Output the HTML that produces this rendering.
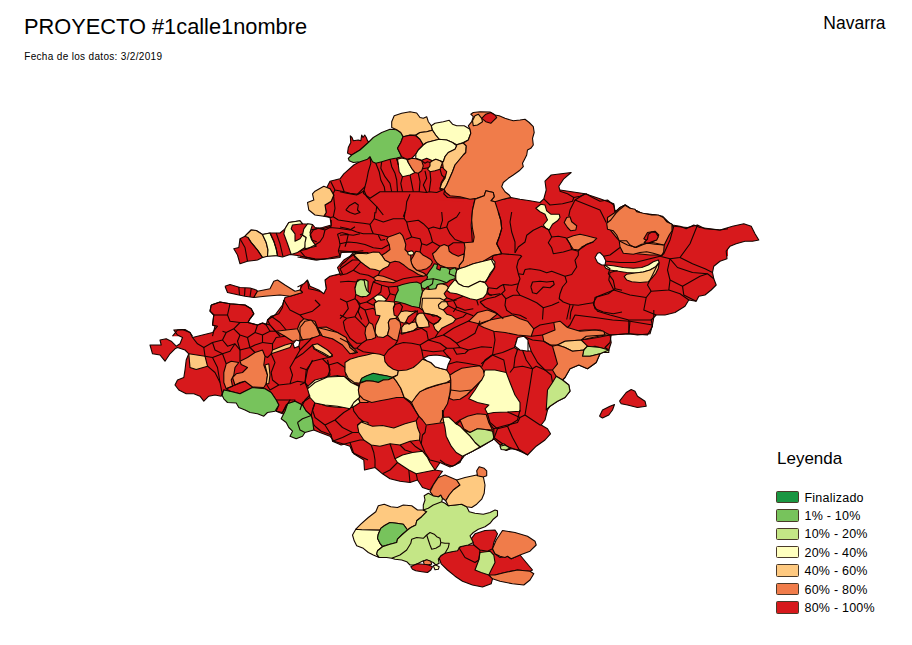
<!DOCTYPE html>
<html lang="es"><head><meta charset="utf-8"><title>PROYECTO #1calle1nombre</title>
<style>
html,body{margin:0;padding:0;background:#fff}
body{width:912px;height:645px;position:relative;overflow:hidden;font-family:"Liberation Sans",Arial,sans-serif;color:#000}
.t{position:absolute;white-space:nowrap;line-height:1}
#title{left:24px;top:15.8px;font-size:21.8px}
#date{left:24.2px;top:52px;font-size:10px;letter-spacing:0.33px}
#reg{left:823.3px;top:14.8px;font-size:17.5px}
#leg{left:777px;top:450px;font-size:17px}
.li{position:absolute;left:776px;width:23px;height:12.5px;border:1px solid #4a3a2a;box-sizing:border-box;border-radius:1.5px}
.lt{position:absolute;left:804.5px;font-size:12.5px;letter-spacing:0.23px;white-space:nowrap;line-height:1}
svg{position:absolute;left:0;top:0}
svg polygon,svg polyline{stroke:#140500;stroke-width:1.1;stroke-linejoin:round}
.R{fill:#d7191c}
.O{fill:#f07c4a}
.L{fill:#fec980}
.Y{fill:#ffffbf}
.G1{fill:#c4e686}
.G2{fill:#77c35c}
.G3{fill:#1a9641}
.W{fill:#ffffff}
.N{fill:none}
.RB{fill:#d7191c}
.WB{fill:#ffffff}
svg .RB,svg .WB{stroke:none}
</style></head><body>
<div class="t" id="title">PROYECTO #1calle1nombre</div>
<div class="t" id="date">Fecha de los datos: 3/2/2019</div>
<div class="t" id="reg">Navarra</div>
<div class="t" id="leg">Leyenda</div>
<div class="li" style="top:490.6px;background:#1a9641"></div><div class="lt" style="top:491.5px">Finalizado</div>
<div class="li" style="top:509.1px;background:#77c35c"></div><div class="lt" style="top:510.0px">1% - 10%</div>
<div class="li" style="top:527.5px;background:#c4e686"></div><div class="lt" style="top:528.4px">10% - 20%</div>
<div class="li" style="top:545.9px;background:#ffffbf"></div><div class="lt" style="top:546.8px">20% - 40%</div>
<div class="li" style="top:564.3px;background:#fec980"></div><div class="lt" style="top:565.2px">40% - 60%</div>
<div class="li" style="top:582.8px;background:#f07c4a"></div><div class="lt" style="top:583.6px">60% - 80%</div>
<div class="li" style="top:601.2px;background:#d7191c"></div><div class="lt" style="top:602.1px">80% - 100%</div>
<svg width="912" height="645" viewBox="0 0 912 645">
<polygon class="RB" points="326.2,188.8 330.0,181.2 340.0,178.8 343.8,173.8 353.8,165.0 365.0,158.8 371.2,157.5 375.0,161.2 382.5,158.8 395.0,155.0 400.0,167.5 415.0,170.0 430.0,167.5 445.0,167.5 447.5,172.5 441.2,182.5 440.0,189.5 445.0,188.8 443.8,193.8 447.5,197.5 460.0,198.0 475.0,198.8 472.5,210.0 471.2,225.0 472.5,245.0 465.0,256.2 300.0,256.2 300.0,235.0 310.0,230.0 322.5,227.5 331.2,225.0 330.0,217.5 323.8,216.2 326.2,212.5 325.0,205.0 331.2,201.2 333.8,195.0 330.0,188.8"/>
<polygon class="RB" points="347.5,153.3 348.3,147.5 350.8,142.5 350.3,135.8 352.0,137.5 353.3,140.8 358.3,140.0 360.8,140.8 361.7,135.0 363.0,137.5 364.7,135.0 366.3,137.5 367.5,140.8 369.2,142.0 360.0,150.0 351.7,155.0"/>
<polygon class="RB" points="396.7,156.7 443.3,160.0 445.0,178.3 440.0,188.3 396.7,191.7"/>
<polygon class="RB" points="233.8,248.8 238.8,247.5 240.0,238.8 245.0,236.2 251.2,230.0 256.2,230.5 262.5,234.5 270.0,233.0 280.0,233.0 285.0,228.8 288.8,222.5 300.0,220.8 302.5,223.8 312.5,224.5 315.0,227.5 322.5,228.8 331.2,226.2 340.0,225.0 355.0,225.0 368.0,225.0 368.0,252.5 352.5,252.5 347.5,253.0 341.2,255.0 338.8,258.8 327.5,259.5 315.0,258.8 305.0,257.0 297.5,255.5 290.0,254.5 282.5,257.0 275.0,255.5 265.0,256.2 257.5,260.0 247.5,261.2 240.0,263.8 237.5,255.0"/>
<polygon class="RB" points="225.0,286.2 230.0,284.5 240.0,287.5 250.0,288.0 256.2,290.0 257.5,291.2 253.8,297.5 245.0,296.2 238.8,295.0 227.5,292.5"/>
<polygon class="RB" points="300.0,290.0 303.8,281.2 307.5,280.0 308.8,288.8 315.0,290.0 323.8,292.5 326.2,288.8 325.0,280.0 328.8,276.2 342.5,273.8 340.0,268.8 352.5,260.0 368.0,260.0 368.0,336.2 280.0,336.2 270.0,325.0 267.5,320.0 275.0,315.0 282.5,305.0 285.0,297.5 290.0,296.2 302.5,292.5"/>
<polygon class="RB" points="211.2,305.0 220.0,302.0 230.0,303.8 245.0,305.0 251.2,308.8 253.8,313.8 250.0,318.8 248.0,322.5 257.5,325.0 262.5,323.0 270.0,325.0 280.0,336.2 172.5,336.2 177.5,330.0 185.0,329.5 190.0,332.5 192.5,336.2 212.5,336.2 215.0,326.2 212.5,325.0 213.8,315.0 210.0,311.2"/>
<polygon class="RB" points="490.0,200.8 503.2,199.2 510.8,197.5 520.0,199.2 530.0,200.8 540.0,202.5 543.8,198.8 546.2,190.0 545.0,181.2 551.2,175.0 561.2,173.8 571.2,172.5 563.8,178.8 558.8,186.2 560.0,191.2 567.5,193.8 573.8,197.5 580.0,196.2 586.2,193.8 592.5,197.5 600.0,201.2 607.5,200.0 613.8,205.0 615.0,212.5 620.0,207.5 625.0,205.0 630.0,208.8 636.2,210.5 642.5,213.8 652.5,214.5 660.0,216.2 666.2,221.2 672.5,225.0 680.0,226.2 686.2,228.8 693.8,225.0 700.0,227.5 710.0,228.8 720.0,230.0 728.0,228.8 728.0,256.2 490.0,256.2"/>
<polygon class="RB" points="585.0,193.8 600.0,198.8 613.8,203.8 615.0,211.2 620.0,208.8 625.5,205.0 635.0,211.2 645.0,215.0 656.2,215.0 662.5,216.2 668.8,222.5 673.8,226.2 687.5,227.5 697.5,225.0 705.0,228.8 720.0,230.0 732.5,226.2 743.8,223.8 751.2,226.2 755.0,233.8 758.8,240.0 752.5,241.2 745.0,241.2 736.2,243.8 730.0,246.2 726.2,251.2 727.0,258.8 720.0,261.2 713.8,266.2 712.5,272.5 713.8,278.8 716.2,285.0 711.2,290.0 705.0,295.0 698.8,296.2 696.2,301.2 688.8,300.0 685.0,306.2 675.0,312.5 665.0,315.0 656.2,315.0 651.2,320.0 652.5,326.2 647.5,335.0 628.8,333.8 610.0,335.0 611.2,342.5 608.8,350.0 560.0,351.2 560.0,190.0"/>
<polygon class="RB" points="653.8,317.5 652.5,325.0 650.0,333.8 637.5,335.0 628.8,333.8 611.2,335.0 610.0,342.5 605.0,347.5 608.8,350.0 600.0,353.8 596.2,362.5 587.5,368.8 578.8,365.0 570.0,368.8 565.0,377.5 562.5,380.0 568.8,385.0 570.0,391.2 565.0,397.5 557.5,401.2 550.0,406.2 547.5,410.0 545.0,420.0 541.2,425.0 547.5,428.8 550.5,433.8 545.0,440.0 536.2,446.2 527.5,455.0 520.0,450.0 511.2,448.8 506.2,450.0 501.2,446.2 502.5,443.8 493.8,437.5 492.5,440.0 480.0,446.2 472.5,451.2 462.5,456.2 460.0,462.5 452.5,466.2 445.0,463.8 440.0,460.0 440.0,310.0 653.8,310.0"/>
<polygon class="RB" points="619.5,401.2 626.2,392.5 631.2,389.5 635.0,391.2 637.5,396.2 645.0,401.2 646.2,406.2 637.5,407.5 627.5,405.0 621.2,403.8"/>
<polygon class="RB" points="599.5,416.2 602.5,410.0 610.0,406.2 614.5,404.5 612.5,410.0 608.8,415.0 602.5,418.0"/>
<polygon class="RB" points="211.2,305.0 220.0,302.0 230.0,303.8 245.0,305.0 251.2,308.8 253.8,313.8 250.0,318.8 248.0,322.5 257.5,325.0 262.5,323.0 266.2,325.0 267.5,320.0 271.2,316.2 278.8,313.8 282.5,307.5 283.8,300.0 368.0,300.0 368.0,460.0 360.0,456.2 352.5,452.5 350.0,446.2 342.5,443.8 333.8,441.2 330.0,436.2 320.0,432.5 313.8,430.0 312.5,420.0 311.2,415.5 306.2,411.2 302.5,405.0 295.0,401.2 287.5,403.8 286.2,405.0 282.5,412.5 276.2,411.2 278.8,405.0 276.2,400.0 271.2,392.5 265.0,388.8 252.5,387.5 240.0,393.8 230.0,391.2 223.8,390.0 221.2,396.2 215.0,395.0 208.8,396.2 203.8,401.2 200.0,396.2 193.8,393.8 186.2,393.8 178.8,390.0 175.0,385.0 177.5,380.0 183.8,377.5 185.0,370.0 186.2,360.0 188.8,353.8 185.0,350.0 177.5,347.5 175.0,348.8 170.0,353.8 165.0,361.2 160.0,355.0 152.5,353.8 150.0,345.0 161.2,345.0 160.0,340.0 166.2,338.8 171.2,341.2 176.2,346.2 180.0,343.8 182.5,337.5 177.5,335.0 173.8,330.0 182.5,329.5 190.0,332.5 192.5,337.5 202.5,335.0 212.5,332.5 217.5,326.2 212.5,325.0 213.8,315.0 210.0,311.2"/>
<polygon class="RB" points="276.2,400.0 295.0,400.0 290.0,412.5 282.5,413.8 276.2,411.2"/>
<polygon class="RB" points="300.0,230.0 528.0,230.0 528.0,391.2 300.0,391.2"/>
<polygon class="RB" points="300.0,360.0 528.0,360.0 528.0,455.0 520.0,451.2 510.0,447.5 500.0,445.0 493.8,438.8 486.2,443.8 480.0,447.5 472.5,451.2 465.0,455.0 461.2,460.0 455.0,465.0 450.0,467.0 440.0,462.5 435.0,470.0 442.5,471.2 436.2,480.0 430.0,490.0 422.5,487.5 417.5,480.0 410.0,482.5 400.0,481.2 390.0,478.8 382.5,473.8 375.0,467.5 364.5,470.0 363.8,460.0 353.8,453.8 350.0,442.5 341.2,445.0 332.5,441.2 331.2,435.0 321.2,431.2 315.0,426.2 310.0,420.0 300.0,420.0"/>
<polygon class="RB" points="520.0,250.0 570.0,250.0 570.0,320.0 520.0,320.0"/>
<polygon class="RB" points="438.8,557.5 445.0,552.5 455.0,551.2 458.8,547.5 466.2,545.0 473.8,545.0 471.2,538.8 475.0,533.8 485.0,530.5 495.0,530.0 497.5,533.8 493.8,542.5 492.5,548.8 495.0,553.8 500.0,557.5 507.5,556.2 511.2,558.8 520.0,555.0 526.2,562.5 532.5,570.0 530.0,571.2 517.5,570.0 505.0,572.5 495.0,575.0 492.5,578.8 491.2,583.8 482.5,587.0 472.5,585.0 462.5,581.2 455.0,576.2 447.5,570.0 441.2,563.8"/>
<polygon class="RB" points="438.3,185.0 463.3,194.2 463.3,201.7 438.3,200.0"/>
<polyline class="N" points="326.2,188.8 330.0,181.2 340.0,178.8 343.8,173.8 353.8,165.0 365.0,158.8 371.2,157.5 375.0,161.2 382.5,158.8 395.0,155.0 400.0,167.5 415.0,170.0 430.0,167.5 445.0,167.5 447.5,172.5 441.2,182.5 440.0,189.5 445.0,188.8 443.8,193.8 447.5,197.5 460.0,198.0 475.0,198.8 472.5,210.0 471.2,225.0 472.5,245.0 465.0,256.2"/>
<polyline class="N" points="300.0,235.0 310.0,230.0 322.5,227.5 331.2,225.0 330.0,217.5 323.8,216.2 326.2,212.5 325.0,205.0 331.2,201.2 333.8,195.0 330.0,188.8 326.2,188.8"/>
<polyline class="N" points="347.5,153.3 348.3,147.5 350.8,142.5 350.3,135.8 352.0,137.5 353.3,140.8 358.3,140.0 360.8,140.8 361.7,135.0 363.0,137.5 364.7,135.0 366.3,137.5 367.5,140.8 369.2,142.0 360.0,150.0 351.7,155.0 347.5,153.3"/>
<polyline class="N" points="352.5,252.5 347.5,253.0 341.2,255.0 338.8,258.8 327.5,259.5 315.0,258.8 305.0,257.0 297.5,255.5 290.0,254.5 282.5,257.0 275.0,255.5 265.0,256.2 257.5,260.0 247.5,261.2 240.0,263.8 237.5,255.0 233.8,248.8 238.8,247.5 240.0,238.8 245.0,236.2 251.2,230.0 256.2,230.5 262.5,234.5 270.0,233.0 280.0,233.0 285.0,228.8 288.8,222.5 300.0,220.8 302.5,223.8 312.5,224.5 315.0,227.5 322.5,228.8 331.2,226.2 331.2,220.0"/>
<polyline class="N" points="225.0,286.2 230.0,284.5 240.0,287.5 250.0,288.0 256.2,290.0 257.5,291.2 253.8,297.5 245.0,296.2 238.8,295.0 227.5,292.5 225.0,286.2"/>
<polyline class="N" points="300.0,290.0 303.8,281.2 307.5,280.0 308.8,288.8 315.0,290.0 323.8,292.5 326.2,288.8 325.0,280.0 328.8,276.2 342.5,273.8 340.0,268.8 352.5,260.0 368.0,260.0"/>
<polyline class="N" points="280.0,336.2 270.0,325.0 267.5,320.0 275.0,315.0 282.5,305.0 285.0,297.5 290.0,296.2 302.5,292.5 300.0,290.0"/>
<polyline class="N" points="211.2,305.0 220.0,302.0 230.0,303.8 245.0,305.0 251.2,308.8 253.8,313.8 250.0,318.8 248.0,322.5 257.5,325.0 262.5,323.0 270.0,325.0 280.0,336.2"/>
<polyline class="N" points="172.5,336.2 177.5,330.0 185.0,329.5 190.0,332.5 192.5,336.2"/>
<polyline class="N" points="212.5,336.2 215.0,326.2 212.5,325.0 213.8,315.0 210.0,311.2 211.2,305.0"/>
<polyline class="N" points="490.0,200.8 503.2,199.2 510.8,197.5 520.0,199.2 530.0,200.8 540.0,202.5 543.8,198.8 546.2,190.0 545.0,181.2 551.2,175.0 561.2,173.8 571.2,172.5 563.8,178.8 558.8,186.2 560.0,191.2 567.5,193.8 573.8,197.5 580.0,196.2 586.2,193.8 592.5,197.5 600.0,201.2 607.5,200.0 613.8,205.0 615.0,212.5 620.0,207.5 625.0,205.0 630.0,208.8 636.2,210.5 642.5,213.8 652.5,214.5 660.0,216.2 666.2,221.2 672.5,225.0 680.0,226.2 686.2,228.8 693.8,225.0 700.0,227.5 710.0,228.8 720.0,230.0 728.0,228.8"/>
<polyline class="N" points="585.0,193.8 600.0,198.8 613.8,203.8 615.0,211.2 620.0,208.8 625.5,205.0 635.0,211.2 645.0,215.0 656.2,215.0 662.5,216.2 668.8,222.5 673.8,226.2 687.5,227.5 697.5,225.0 705.0,228.8 720.0,230.0 732.5,226.2 743.8,223.8 751.2,226.2 755.0,233.8 758.8,240.0 752.5,241.2 745.0,241.2 736.2,243.8 730.0,246.2 726.2,251.2 727.0,258.8 720.0,261.2 713.8,266.2 712.5,272.5 713.8,278.8 716.2,285.0 711.2,290.0 705.0,295.0 698.8,296.2 696.2,301.2 688.8,300.0 685.0,306.2 675.0,312.5 665.0,315.0 656.2,315.0 651.2,320.0 652.5,326.2 647.5,335.0 628.8,333.8 610.0,335.0 611.2,342.5 608.8,350.0 560.0,351.2"/>
<polyline class="N" points="560.0,190.0 585.0,193.8"/>
<polyline class="N" points="653.8,317.5 652.5,325.0 650.0,333.8 637.5,335.0 628.8,333.8 611.2,335.0 610.0,342.5 605.0,347.5 608.8,350.0 600.0,353.8 596.2,362.5 587.5,368.8 578.8,365.0 570.0,368.8 565.0,377.5 562.5,380.0 568.8,385.0 570.0,391.2 565.0,397.5 557.5,401.2 550.0,406.2 547.5,410.0 545.0,420.0 541.2,425.0 547.5,428.8 550.5,433.8 545.0,440.0 536.2,446.2 527.5,455.0 520.0,450.0 511.2,448.8 506.2,450.0 501.2,446.2 502.5,443.8 493.8,437.5 492.5,440.0 480.0,446.2 472.5,451.2 462.5,456.2 460.0,462.5 452.5,466.2 445.0,463.8 440.0,460.0"/>
<polyline class="N" points="653.8,310.0 653.8,317.5"/>
<polyline class="N" points="619.5,401.2 626.2,392.5 631.2,389.5 635.0,391.2 637.5,396.2 645.0,401.2 646.2,406.2 637.5,407.5 627.5,405.0 621.2,403.8 619.5,401.2"/>
<polyline class="N" points="599.5,416.2 602.5,410.0 610.0,406.2 614.5,404.5 612.5,410.0 608.8,415.0 602.5,418.0 599.5,416.2"/>
<polyline class="N" points="211.2,305.0 220.0,302.0 230.0,303.8 245.0,305.0 251.2,308.8 253.8,313.8 250.0,318.8 248.0,322.5 257.5,325.0 262.5,323.0 266.2,325.0 267.5,320.0 271.2,316.2 278.8,313.8 282.5,307.5 283.8,300.0"/>
<polyline class="N" points="368.0,460.0 360.0,456.2 352.5,452.5 350.0,446.2 342.5,443.8 333.8,441.2 330.0,436.2 320.0,432.5 313.8,430.0 312.5,420.0 311.2,415.5 306.2,411.2 302.5,405.0 295.0,401.2 287.5,403.8 286.2,405.0 282.5,412.5 276.2,411.2 278.8,405.0 276.2,400.0 271.2,392.5 265.0,388.8 252.5,387.5 240.0,393.8 230.0,391.2 223.8,390.0 221.2,396.2 215.0,395.0 208.8,396.2 203.8,401.2 200.0,396.2 193.8,393.8 186.2,393.8 178.8,390.0 175.0,385.0 177.5,380.0 183.8,377.5 185.0,370.0 186.2,360.0 188.8,353.8 185.0,350.0 177.5,347.5 175.0,348.8 170.0,353.8 165.0,361.2 160.0,355.0 152.5,353.8 150.0,345.0 161.2,345.0 160.0,340.0 166.2,338.8 171.2,341.2 176.2,346.2 180.0,343.8 182.5,337.5 177.5,335.0 173.8,330.0 182.5,329.5 190.0,332.5 192.5,337.5 202.5,335.0 212.5,332.5 217.5,326.2 212.5,325.0 213.8,315.0 210.0,311.2 211.2,305.0"/>
<polyline class="N" points="276.2,400.0 295.0,400.0 290.0,412.5 282.5,413.8 276.2,411.2 276.2,400.0"/>
<polyline class="N" points="528.0,455.0 520.0,451.2 510.0,447.5 500.0,445.0 493.8,438.8 486.2,443.8 480.0,447.5 472.5,451.2 465.0,455.0 461.2,460.0 455.0,465.0 450.0,467.0 440.0,462.5 435.0,470.0 442.5,471.2 436.2,480.0 430.0,490.0 422.5,487.5 417.5,480.0 410.0,482.5 400.0,481.2 390.0,478.8 382.5,473.8 375.0,467.5 364.5,470.0 363.8,460.0 353.8,453.8 350.0,442.5 341.2,445.0 332.5,441.2 331.2,435.0 321.2,431.2 315.0,426.2 310.0,420.0 300.0,420.0"/>
<polyline class="N" points="438.8,557.5 445.0,552.5 455.0,551.2 458.8,547.5 466.2,545.0 473.8,545.0 471.2,538.8 475.0,533.8 485.0,530.5 495.0,530.0 497.5,533.8 493.8,542.5 492.5,548.8 495.0,553.8 500.0,557.5 507.5,556.2 511.2,558.8 520.0,555.0 526.2,562.5 532.5,570.0 530.0,571.2 517.5,570.0 505.0,572.5 495.0,575.0 492.5,578.8 491.2,583.8 482.5,587.0 472.5,585.0 462.5,581.2 455.0,576.2 447.5,570.0 441.2,563.8 438.8,557.5"/>
<polygon class="G2" points="348.3,158.3 351.7,155.0 360.0,150.0 368.3,142.5 373.3,137.5 381.7,132.5 390.0,129.2 396.7,129.7 400.8,132.5 403.0,136.7 400.8,142.5 397.5,148.3 400.0,153.3 401.7,156.7 396.7,158.0 390.0,159.2 381.7,161.7 375.8,163.3 372.5,161.7 370.0,156.7 367.5,159.2 360.0,161.7 353.3,162.5 349.2,160.8"/>
<polygon class="L" points="391.7,121.7 394.2,115.8 401.7,113.3 410.0,111.7 416.7,113.0 420.0,117.5 423.3,118.3 426.7,116.7 428.3,121.7 431.3,125.8 432.5,130.0 426.7,131.7 420.0,132.5 415.8,135.0 410.0,135.0 403.3,136.7 400.8,132.5 396.7,129.7 391.7,127.5"/>
<polygon class="R" points="403.0,136.7 410.0,135.3 415.8,135.8 420.0,139.2 423.3,145.0 418.3,150.0 415.8,154.2 411.7,158.3 406.7,159.2 401.7,156.7 397.5,148.3 400.8,142.5"/>
<polygon class="L" points="415.8,135.3 420.0,132.5 426.7,131.7 432.5,130.3 435.8,135.0 439.2,139.2 433.3,140.8 426.7,142.5 423.3,144.7 420.0,139.2"/>
<polygon class="Y" points="431.3,125.8 435.0,123.3 443.3,121.7 449.2,120.3 452.5,124.2 456.7,125.8 464.2,125.8 470.0,129.2 470.8,133.3 468.3,140.0 463.3,142.5 456.7,144.7 452.5,142.5 446.7,140.0 439.2,139.2 435.8,135.0 432.5,130.0"/>
<polygon class="Y" points="423.3,145.0 426.7,142.5 433.3,140.8 439.2,139.2 446.7,140.0 452.5,142.5 456.7,145.8 455.0,149.2 448.3,152.5 445.0,156.7 443.3,161.7 440.0,160.8 435.8,159.2 432.5,160.8 426.7,158.3 421.7,160.3 415.8,158.3 415.8,154.2 418.3,150.0"/>
<polygon class="L" points="456.7,144.7 463.3,143.0 466.3,145.8 465.8,152.5 463.3,155.0 459.2,160.0 455.0,165.0 452.5,171.7 449.2,179.2 446.7,185.0 444.2,189.2 440.0,188.3 441.7,183.3 445.0,178.3 446.7,171.7 443.3,168.3 442.5,162.5 443.3,161.7 445.0,156.7 448.3,152.5 455.0,149.2 456.7,145.8"/>
<polygon class="O" points="470.8,133.3 470.0,129.2 468.3,125.8 471.7,121.7 473.3,116.7 470.8,114.2 473.3,112.5 480.0,111.7 490.0,112.0 495.0,115.0 499.2,115.8 505.0,118.3 513.3,120.8 520.0,120.0 525.0,119.2 529.2,122.5 533.3,126.7 534.2,132.5 532.5,138.3 533.3,145.0 530.8,148.3 527.5,150.0 526.7,155.0 524.2,160.0 522.5,163.3 523.3,166.7 519.2,170.8 513.3,175.0 508.3,178.3 503.3,182.5 501.7,186.7 505.0,191.7 509.2,195.0 510.8,197.5 503.3,199.2 495.0,201.7 490.8,200.8 494.2,196.7 493.3,192.5 485.8,190.8 484.2,195.8 476.7,198.3 470.0,199.2 460.0,196.7 450.0,195.8 445.8,192.5 444.2,189.2 446.7,185.0 449.2,179.2 452.5,171.7 455.0,165.0 459.2,160.0 463.3,155.0 465.8,152.5 466.3,145.8 463.3,143.0 468.3,140.0"/>
<polygon class="L" points="472.5,120.8 475.0,115.8 478.3,114.2 481.7,118.3 482.5,121.7 477.5,125.0 473.3,125.8"/>
<polygon class="Y" points="397.5,159.2 401.7,158.0 406.7,159.2 408.3,162.5 411.7,168.3 415.0,172.5 410.0,175.0 402.5,176.7 399.2,171.7 398.3,165.0"/>
<polygon class="O" points="407.5,160.0 411.7,158.3 415.8,158.7 421.7,160.8 423.3,165.8 421.7,170.8 418.3,173.3 415.0,172.5 411.7,168.3 408.3,162.5"/>
<polygon class="L" points="430.0,162.5 432.5,160.8 435.8,159.2 440.0,160.8 442.5,162.5 440.0,169.2 435.0,170.8 430.0,171.7 427.5,169.2 430.0,165.8"/>
<polygon class="L" points="315.0,191.2 323.8,186.2 330.0,188.8 333.8,195.0 331.2,201.2 325.0,205.0 326.2,212.5 323.8,216.2 315.0,215.0 308.8,210.0 307.5,202.5 313.8,200.0 312.5,193.8"/>
<polygon class="L" points="245.0,236.2 251.2,230.0 256.2,230.5 262.5,234.5 266.2,242.5 268.0,250.0 267.5,256.2 262.5,257.5 257.5,250.0 251.2,242.5 248.0,237.5"/>
<polygon class="Y" points="262.5,234.5 270.0,233.0 273.8,241.2 276.2,248.8 277.5,255.5 267.5,256.2 268.0,250.0 266.2,242.5"/>
<polygon class="Y" points="283.8,233.8 285.0,228.8 288.8,222.5 300.0,220.8 302.5,223.8 292.5,225.0 291.2,228.8 295.0,233.8 295.0,241.2 300.0,238.8 302.5,235.0 306.2,237.5 305.0,247.5 297.5,252.5 291.2,254.5 287.5,243.8"/>
<polygon class="Y" points="303.8,228.8 307.5,223.8 312.5,224.5 310.0,232.5 312.5,241.2 316.2,246.2 305.0,248.8 305.0,242.5 306.2,237.5 302.5,235.0"/>
<polygon class="O" points="253.8,297.5 257.5,291.2 270.0,288.8 273.8,281.2 277.5,280.0 285.0,285.0 295.0,291.2 300.0,290.0 302.5,292.5 290.0,296.2 280.0,295.0 265.0,296.2"/>
<polygon class="L" points="352.5,252.5 368.0,252.5 368.0,261.2 362.5,262.5 355.0,257.5"/>
<polygon class="G1" points="355.0,287.5 357.5,280.0 365.0,279.5 368.0,281.2 368.0,295.0 362.5,297.0 357.5,293.8"/>
<polygon class="O" points="607.5,217.5 615.0,212.5 620.0,207.5 625.0,205.0 630.0,208.8 636.2,210.5 642.5,213.8 652.5,214.5 660.0,216.2 666.2,221.2 672.5,225.0 670.0,231.2 666.2,240.0 663.8,245.0 662.5,255.0 650.0,255.0 637.5,253.8 622.5,251.2 620.0,241.2 617.5,238.8 611.2,231.2 607.5,225.0"/>
<polygon class="O" points="560.0,326.2 570.0,331.2 585.0,330.0 600.0,330.0 610.0,335.0 597.5,337.5 585.0,339.5 570.0,340.0 560.0,340.0"/>
<polygon class="L" points="560.0,340.0 570.0,340.0 580.0,342.5 587.5,347.5 585.0,351.2 560.0,351.2"/>
<polygon class="G1" points="586.2,347.5 595.0,346.2 608.8,350.0 608.8,352.5 586.2,352.5"/>
<polygon class="O" points="478.8,325.0 490.0,320.0 502.5,317.5 512.5,315.0 520.0,318.8 527.5,321.2 533.8,328.8 531.2,336.2 517.5,335.0 505.0,332.5 493.8,331.2 483.8,327.5"/>
<polygon class="O" points="468.8,321.2 477.5,312.5 487.5,310.0 497.5,313.8 490.0,320.0 478.8,323.8"/>
<polygon class="O" points="542.5,335.0 555.0,330.0 553.8,322.5 560.0,321.2 567.5,327.5 580.0,331.2 595.0,330.0 603.8,331.2 605.0,335.0 592.5,337.5 581.2,340.0 565.0,341.2 557.5,345.0 550.0,345.0 543.8,341.2"/>
<polygon class="L" points="557.5,345.0 565.0,341.2 581.2,340.0 587.5,346.2 583.8,350.0 572.5,351.2 565.0,347.5"/>
<polygon class="G1" points="583.8,350.0 587.5,346.2 600.0,347.5 608.8,350.0 600.0,353.8 590.0,356.2 582.5,356.2"/>
<polygon class="O" points="552.5,346.2 557.5,345.0 565.0,347.5 572.5,351.2 583.8,350.0 582.5,356.2 590.0,356.2 600.0,353.8 596.2,362.5 587.5,368.8 578.8,365.0 570.0,368.8 565.0,377.5 562.5,380.0 556.2,376.2 552.5,370.0 557.5,363.8 555.0,355.0"/>
<polygon class="G1" points="546.2,410.0 547.5,390.0 552.5,382.5 556.2,376.2 562.5,380.0 568.8,385.0 570.0,391.2 565.0,397.5 557.5,401.2 550.0,406.2"/>
<polygon class="Y" points="468.8,398.8 475.0,390.0 481.2,380.0 485.0,370.0 495.0,370.0 506.2,372.5 510.0,382.5 515.0,395.0 520.0,402.5 520.0,411.2 507.5,412.0 493.8,412.5 487.5,413.8 485.0,408.8 488.8,405.0 477.5,402.5"/>
<polygon class="O" points="460.0,420.0 467.5,416.2 477.5,413.8 486.2,414.5 488.8,422.5 492.5,430.0 485.0,429.5 477.5,428.8 470.0,432.5 463.8,428.8"/>
<polygon class="G1" points="463.8,430.0 470.0,432.5 477.5,428.8 485.0,429.5 492.5,431.2 493.8,437.5 492.5,440.0 480.0,447.0 475.0,442.5 470.0,436.2"/>
<polygon class="Y" points="442.5,417.5 448.8,417.0 456.2,423.8 460.0,426.2 463.8,430.0 470.0,436.2 475.0,442.5 480.0,447.0 472.5,451.2 462.5,456.2 456.2,452.5 451.2,446.2 446.2,436.2 445.0,427.5"/>
<polygon class="G1" points="500.0,445.0 503.8,443.8 510.0,448.8 506.2,450.5 502.0,448.0"/>
<polygon class="G2" points="223.8,390.0 230.0,391.2 240.0,393.8 252.5,387.5 265.0,388.8 271.2,392.5 276.2,400.0 278.8,405.0 275.0,411.2 267.5,412.5 263.8,416.2 257.5,413.8 250.0,412.5 245.0,410.0 238.8,407.5 236.2,403.0 227.5,402.5 223.8,398.8 222.0,395.0"/>
<polygon class="G2" points="281.2,418.8 285.0,411.2 287.5,403.8 295.0,401.2 302.5,405.0 306.2,411.2 311.2,415.5 312.5,420.0 313.8,430.0 305.0,432.5 302.5,436.2 296.2,438.8 290.0,436.2 292.5,431.2 288.8,427.5 286.2,422.5"/>
<polygon class="L" points="188.8,353.8 205.0,356.2 207.5,366.2 196.2,369.5 190.0,367.5"/>
<polygon class="O" points="240.0,361.2 247.5,357.5 255.0,352.5 262.5,350.0 265.0,356.2 263.8,365.0 267.5,375.0 266.2,383.8 263.8,387.5 252.5,387.0 245.0,381.2 240.0,382.5 235.0,385.0 232.5,377.5 236.2,373.8 242.5,372.5 247.5,367.5 241.2,364.5"/>
<polygon class="O" points="223.8,372.5 226.2,363.8 231.2,361.2 238.8,362.5 235.0,367.5 233.8,375.0 231.2,380.0 232.5,386.2 226.2,388.8 223.8,382.5"/>
<polygon class="O" points="276.2,331.2 286.2,330.0 297.5,328.8 300.0,322.5 303.8,318.8 315.0,321.2 317.5,327.5 320.0,335.0 312.5,337.5 302.5,340.0 292.5,341.2 285.0,336.2"/>
<polygon class="O" points="318.8,327.5 326.2,327.0 337.5,332.5 345.0,337.5 351.2,345.0 357.5,352.5 352.5,353.8 345.0,346.2 337.5,340.0 327.5,337.5 320.0,335.0"/>
<polygon class="L" points="312.5,345.0 317.5,344.5 326.2,350.0 332.5,356.2 328.8,357.5 320.0,352.5 313.8,348.8"/>
<polygon class="L" points="272.5,350.0 285.0,345.0 292.5,343.0 290.0,347.5 278.8,351.2 271.2,353.8"/>
<polygon class="L" points="265.0,365.0 268.8,363.8 270.0,375.0 268.8,383.8 266.2,383.8 267.5,375.0"/>
<polygon class="Y" points="308.0,386.2 315.0,380.0 325.0,377.5 337.5,375.5 345.0,377.5 352.5,383.8 358.8,385.0 357.5,395.0 360.0,402.5 352.5,407.5 340.0,407.5 327.5,406.2 315.0,402.5 310.0,395.0"/>
<polygon class="L" points="345.0,367.5 352.5,360.0 362.5,356.2 368.0,356.2 368.0,377.5 360.0,382.5 352.5,383.8 346.2,377.5"/>
<polygon class="G3" points="360.0,381.2 363.8,376.2 368.0,375.0 368.0,383.8 362.5,383.8"/>
<polygon class="O" points="357.5,395.0 358.8,385.0 362.5,383.8 368.0,382.5 368.0,402.5 360.0,402.5"/>
<polygon class="L" points="357.5,425.0 362.5,421.2 368.0,422.5 368.0,440.0 362.5,436.2 358.8,430.0"/>
<polygon class="O" points="300.0,327.5 305.0,321.2 311.2,320.0 316.2,326.2 320.0,335.0 317.5,336.2 310.0,338.8 300.0,340.0"/>
<polygon class="O" points="317.5,327.5 327.5,330.0 337.5,332.5 346.2,337.5 350.0,347.5 356.2,352.5 350.0,353.8 342.5,345.0 332.5,338.8 322.5,336.2"/>
<polygon class="L" points="312.5,345.0 317.5,343.8 327.5,350.0 332.5,355.0 330.0,357.0 322.5,352.5 315.0,348.8"/>
<polygon class="Y" points="307.5,388.8 315.0,382.5 327.5,377.0 343.8,376.2 351.2,382.5 358.8,386.2 359.5,397.5 353.8,402.5 350.0,408.8 337.5,406.2 325.0,405.0 315.0,403.0 310.0,397.5"/>
<polygon class="O" points="411.2,402.0 415.0,397.5 420.0,391.2 430.0,387.5 442.5,383.8 450.8,382.0 450.0,392.5 447.5,403.8 443.8,410.0 442.5,416.2 443.8,422.5 435.0,423.8 426.2,425.0 422.5,420.0 418.8,416.2 415.0,410.0"/>
<polygon class="L" points="357.5,425.5 361.2,422.0 372.5,426.2 382.5,425.5 393.8,428.0 405.0,423.8 416.2,420.8 417.5,427.5 420.0,433.8 419.5,440.0 410.0,441.2 400.0,445.0 390.0,443.8 380.0,446.2 371.2,445.0 363.8,440.0 358.8,432.5"/>
<polygon class="Y" points="395.0,458.8 402.5,455.0 412.5,452.5 422.5,451.2 427.5,457.5 430.0,462.5 435.0,470.0 425.0,472.0 416.2,473.8 408.8,470.0 401.2,465.0 397.5,462.5"/>
<polygon class="G1" points="500.0,446.2 505.0,445.0 510.0,448.0 506.2,450.0 501.2,449.5"/>
<polygon class="O" points="606.7,223.3 610.8,220.0 615.8,213.3 620.0,209.2 625.0,205.3 630.0,208.3 635.0,209.2 636.7,211.7 643.3,213.3 651.7,215.0 658.3,215.0 663.3,217.5 666.7,221.7 672.0,224.2 672.0,230.8 669.2,235.0 666.7,240.0 664.2,245.0 663.7,251.7 661.7,255.8 653.3,253.3 646.7,251.7 640.0,252.5 633.3,254.2 623.3,253.3 620.0,246.7 619.2,240.8 616.7,235.0 613.3,230.8 607.5,229.2"/>
<polygon class="Y" points="604.2,265.8 605.8,265.0 613.3,265.8 623.3,267.5 633.3,268.3 641.7,267.5 648.3,265.0 653.3,261.7 658.3,260.0 659.2,262.5 655.8,266.7 650.0,270.0 643.3,272.0 635.0,273.0 626.7,272.5 618.3,271.3 610.0,270.0 605.8,268.3"/>
<polygon class="L" points="624.2,276.7 626.7,274.2 635.0,273.0 643.3,272.0 650.0,270.0 655.8,266.7 659.2,262.5 658.3,268.3 655.8,273.3 651.7,278.3 648.3,281.7 640.0,282.5 631.7,281.7 626.7,280.0"/>
<polygon class="Y" points="535.8,208.3 540.8,204.2 545.0,205.0 546.7,210.8 550.8,214.2 559.2,214.2 560.0,217.5 557.5,220.8 552.5,224.2 549.2,230.0 545.8,228.3 543.3,225.0 547.5,220.0 545.0,214.2 540.0,211.7"/>
<polygon class="O" points="564.2,222.5 566.7,217.5 570.0,216.7 571.7,221.7 576.7,225.8 575.8,230.0 570.8,230.8 567.5,227.5"/>
<polygon class="O" points="566.7,238.3 573.3,235.8 580.0,234.2 586.7,235.8 593.3,237.5 596.7,238.3 593.3,241.7 586.7,244.2 582.5,247.5 578.3,250.0 573.3,249.2 570.0,244.2"/>
<polygon class="O" points="472.5,210.0 471.7,220.3 472.5,228.7 474.2,237.0 473.3,242.0 464.2,242.8 465.0,247.8 464.2,253.7 463.3,260.3 459.2,265.3 459.2,268.7 465.0,267.0 473.3,263.7 483.3,261.2 492.5,255.7 501.7,253.7 500.0,250.3 496.7,243.7 499.2,237.0 501.7,228.7 500.8,220.3 498.3,212.0 496.7,206.8 495.0,201.8 490.8,200.8 494.2,196.8 493.3,192.5 485.8,190.8 484.2,195.8 475.0,199.3"/>
<polygon class="O" points="432.5,253.7 435.8,251.2 440.0,246.2 444.2,244.5 448.3,246.2 449.2,251.2 452.5,253.7 458.3,256.2 464.2,253.7 463.3,260.3 459.2,265.3 459.2,268.7 455.0,267.8 446.7,267.8 440.0,265.3 436.7,262.8 434.2,258.7"/>
<polygon class="O" points="410.8,260.3 413.3,256.2 415.8,251.2 420.0,252.0 423.3,255.3 426.7,257.0 430.8,259.5 432.5,262.0 430.8,265.3 426.7,268.7 421.7,270.0 416.7,270.3 413.3,267.0 411.7,263.7"/>
<polygon class="O" points="381.7,255.3 385.8,252.8 390.0,249.5 389.2,244.5 386.7,239.5 388.3,237.0 393.3,235.3 400.0,232.8 402.5,235.3 404.2,239.5 405.8,244.5 405.0,249.5 408.3,252.8 410.8,256.2 410.8,260.3 411.7,263.7 413.3,267.0 416.7,270.3 423.3,272.8 426.7,275.3 423.3,276.2 418.3,274.5 413.3,271.2 408.3,268.7 404.2,265.3 399.2,262.0 395.0,261.2 390.0,262.8 385.0,260.3"/>
<polygon class="Y" points="407.5,252.0 411.7,250.7 414.2,252.8 412.5,255.0 408.3,254.7"/>
<polygon class="L" points="353.3,254.5 358.3,253.3 366.7,253.7 373.3,252.0 379.2,252.3 381.7,255.3 385.0,260.3 390.0,262.8 388.3,266.2 383.3,268.7 380.0,271.2 375.0,269.5 370.0,268.7 365.0,265.3 360.8,262.0 357.5,258.7"/>
<polygon class="G2" points="426.7,275.3 430.0,270.3 432.5,267.0 434.2,263.7 437.5,264.5 436.7,268.7 440.0,270.3 440.8,267.0 446.7,267.8 450.0,269.5 455.0,267.8 456.7,270.3 455.8,274.5 455.0,278.7 450.0,280.3 446.7,282.8 441.7,283.7 437.5,284.5 435.8,288.7 431.7,290.3 429.2,289.5 428.3,286.2 425.0,288.7 421.7,287.8 420.8,283.7 423.3,281.2 426.7,279.5 427.5,277.0"/>
<polygon class="G2" points="397.5,286.2 402.5,284.5 410.0,282.8 416.7,282.0 420.8,283.7 421.7,287.8 422.5,292.0 420.8,298.7 420.0,305.3 419.7,307.8 411.7,306.2 405.0,303.7 398.3,302.0 394.2,301.2 395.8,295.3 398.3,290.3"/>
<polygon class="Y" points="456.7,270.3 459.2,268.7 465.0,267.0 473.3,263.7 483.3,261.2 492.5,259.0 495.0,262.0 494.2,268.7 490.0,275.3 485.0,282.0 480.0,281.2 473.3,284.5 468.3,287.0 463.3,286.2 458.3,283.7 455.8,279.5 455.8,274.5"/>
<polygon class="Y" points="446.7,290.3 450.0,285.3 455.0,279.5 458.3,283.7 463.3,286.2 468.3,287.0 473.3,284.5 480.0,281.2 485.0,282.8 488.0,287.0 486.7,293.7 483.3,297.8 476.7,300.0 470.0,298.7 463.3,296.2 456.7,293.7 450.0,292.8"/>
<polygon class="G1" points="356.7,282.0 360.0,279.5 364.2,280.3 365.0,285.3 366.7,290.3 370.0,293.7 366.7,296.2 360.8,296.7 355.8,294.5 355.0,288.7"/>
<polygon class="Y" points="373.3,297.8 377.5,294.8 381.7,295.3 386.7,299.5 384.2,302.0 377.5,302.8"/>
<polygon class="L" points="422.5,292.0 425.0,288.7 429.2,289.5 435.8,288.7 437.5,284.5 441.7,283.7 446.7,285.3 448.3,287.8 446.7,290.3 444.2,293.7 446.7,297.8 441.7,302.0 438.3,305.3 441.7,310.3 438.3,315.3 433.3,316.2 426.7,312.0 421.7,309.5 419.7,307.8 420.8,298.7"/>
<polygon class="O" points="373.3,277.8 377.5,275.3 383.3,276.2 390.0,278.7 396.7,281.2 393.3,282.8 388.3,282.0 381.7,281.2 375.8,280.3"/>
<polygon class="L" points="374.2,303.3 378.3,300.8 386.7,301.3 394.2,302.0 395.0,304.2 393.3,308.3 394.2,315.0 397.5,316.7 395.8,318.3 390.0,319.2 388.3,322.5 389.2,328.3 387.5,335.0 383.3,337.5 377.5,336.7 375.0,332.5 375.8,325.0 378.3,320.0 380.0,315.8 375.8,315.0 375.0,310.0"/>
<polygon class="O" points="388.3,322.5 390.0,319.2 395.8,318.3 400.0,321.7 400.8,326.7 399.2,333.3 397.5,340.8 393.3,339.2 387.5,335.0 389.2,328.3"/>
<polygon class="O" points="365.8,327.5 369.2,322.5 372.5,324.2 375.0,332.5 375.8,337.5 371.7,339.2 366.7,340.0 365.0,333.3"/>
<polygon class="L" points="397.5,316.7 400.8,311.7 405.8,310.8 411.7,311.7 415.8,310.8 413.3,315.8 409.2,320.0 404.2,323.3 400.0,321.7"/>
<polygon class="L" points="401.7,327.5 404.2,324.2 409.2,323.3 415.8,321.7 417.5,327.5 413.3,330.8 406.7,332.5 401.7,334.2"/>
<polygon class="L" points="415.8,315.8 419.2,313.3 423.3,313.0 425.8,317.5 428.3,321.7 429.2,326.7 423.3,327.5 418.3,327.5 415.8,321.7"/>
<polygon class="L" points="422.5,298.3 440.0,298.3 446.7,301.7 448.3,305.8 443.3,310.0 446.7,314.2 451.7,315.8 455.8,319.2 453.3,322.5 446.7,325.8 441.7,328.3 438.3,332.5 435.0,329.2 433.3,325.0 438.3,321.7 440.8,318.3 436.7,315.8 430.0,314.2 424.2,313.0 421.7,307.5"/>
<polygon class="L" points="345.0,362.5 350.0,359.2 358.3,356.7 366.7,355.0 373.3,353.3 380.0,354.2 384.2,355.8 385.0,361.7 388.3,365.8 393.3,369.2 398.3,370.8 397.5,375.0 391.7,377.5 385.0,375.8 378.3,374.2 371.7,374.2 365.0,376.7 360.8,380.0 360.0,383.3 354.2,382.5 348.3,378.3 345.0,371.7"/>
<polygon class="G3" points="360.0,382.5 361.7,378.3 366.7,375.8 373.3,373.3 380.0,374.7 386.7,375.8 393.3,377.5 388.3,379.7 383.3,380.0 378.3,382.5 373.3,381.3 366.7,380.8"/>
<polygon class="O" points="358.3,390.0 360.0,383.3 366.7,380.8 373.3,381.3 378.3,382.5 383.3,380.0 388.3,379.7 393.3,377.5 396.7,381.7 400.8,388.3 403.3,395.0 404.2,397.5 396.7,397.5 388.3,399.2 380.0,400.8 371.7,402.5 363.3,399.2 359.2,395.0"/>
<polygon class="L" points="393.3,377.5 397.5,375.0 398.3,370.8 406.7,370.0 413.3,367.5 418.3,363.3 422.5,359.2 426.7,360.8 430.8,362.5 435.0,366.7 440.0,368.3 446.7,370.0 450.0,375.0 450.8,380.0 446.7,382.5 436.7,385.0 426.7,388.3 420.0,391.7 415.8,396.7 411.7,402.5 408.3,400.0 404.2,397.5 403.3,395.0 400.8,388.3 396.7,381.7"/>
<polygon class="O" points="450.8,380.0 450.0,375.0 455.0,371.7 461.7,368.3 471.7,366.7 480.0,365.8 483.3,370.0 484.2,375.0 481.7,380.0 476.7,385.0 471.7,390.0 466.7,395.0 460.0,399.2 453.3,400.0 449.2,398.3 450.8,390.0"/>
<polygon class="L" points="355.8,529.2 360.8,524.2 368.3,517.5 375.8,511.7 378.3,505.8 384.2,504.2 390.8,506.7 397.5,507.5 403.3,505.0 411.7,505.8 417.5,510.0 423.3,510.0 426.7,511.7 421.7,516.7 416.7,520.8 415.8,525.0 410.8,527.5 407.5,530.0 403.3,524.2 396.7,523.3 390.0,522.5 384.2,525.8 380.0,530.0 370.0,530.0 361.7,529.7"/>
<polygon class="Y" points="352.5,535.0 355.8,529.2 361.7,529.7 370.0,530.0 380.0,530.3 378.3,534.2 377.5,538.3 380.0,543.3 382.5,546.7 377.5,550.8 376.7,554.2 379.2,557.5 373.3,555.0 368.3,552.5 363.3,548.3 356.7,545.8 354.2,540.8"/>
<polygon class="G2" points="378.3,534.2 380.8,528.3 384.2,525.8 390.0,522.5 396.7,523.3 403.3,524.2 407.5,530.0 401.7,535.0 397.5,539.2 396.7,542.5 390.0,544.2 382.5,546.3 380.0,543.3 377.5,538.3"/>
<polygon class="G1" points="377.5,550.8 382.5,546.7 390.0,544.2 396.7,542.5 397.5,539.2 401.7,535.0 407.5,530.0 410.8,527.5 415.8,525.0 416.7,520.8 421.7,516.7 426.7,511.7 423.3,510.0 423.3,505.0 425.0,500.0 424.2,495.8 428.3,493.3 433.3,495.8 438.3,496.7 440.8,495.0 442.5,498.3 441.7,501.7 445.0,503.3 448.3,505.8 455.0,505.0 461.7,504.2 466.7,506.7 469.2,511.7 475.0,513.3 483.3,514.2 490.0,512.5 495.0,510.0 497.5,510.8 497.5,515.8 493.3,519.2 490.0,523.3 485.0,526.7 478.3,529.2 473.3,532.5 470.0,535.8 471.7,539.2 473.3,542.5 468.3,545.0 460.0,546.7 457.5,550.8 451.7,551.7 445.0,553.3 440.8,555.8 438.3,559.2 439.2,563.3 435.8,565.0 433.3,562.5 426.7,560.0 423.3,560.8 418.3,563.3 414.2,565.0 410.0,565.0 406.7,561.7 401.7,560.0 395.0,559.2 391.7,558.3 386.7,557.5 379.2,557.5 376.7,554.2"/>
<polygon class="O" points="430.0,491.7 433.3,485.0 438.3,477.5 445.0,475.0 456.7,480.0 460.0,485.0 453.3,490.0 449.2,495.0 445.8,500.8 442.5,498.3 440.8,495.0 438.3,496.7 433.3,495.8"/>
<polygon class="L" points="445.8,500.8 449.2,495.0 453.3,490.0 460.0,485.0 456.7,480.0 465.0,477.5 476.7,475.0 483.3,476.7 485.0,485.0 484.2,493.3 481.7,499.2 476.7,504.2 471.7,507.5 466.7,506.7 461.7,504.2 455.0,505.0 448.3,505.8"/>
<polygon class="O" points="477.5,475.8 476.7,470.8 479.2,466.7 484.2,468.3 486.7,470.8 486.7,475.8 483.3,477.0"/>
<polygon class="O" points="492.5,548.8 496.2,540.0 502.5,530.5 515.0,532.5 527.5,536.2 535.0,541.2 536.2,545.0 530.0,551.2 520.0,555.0 511.2,558.8 507.5,556.2 505.0,557.5 500.0,556.2 495.0,553.8"/>
<polygon class="O" points="488.8,575.0 495.0,575.0 505.0,572.5 517.5,570.0 530.0,571.2 533.8,573.8 530.0,580.0 523.8,585.0 512.5,583.8 500.0,581.2 492.5,578.8"/>
<polygon class="G1" points="475.0,570.0 478.8,560.0 480.0,552.5 490.0,551.2 493.8,555.0 495.0,562.5 491.2,570.0 488.8,575.0 481.2,572.5"/>
<polygon class="R" points="481.7,118.3 485.8,114.2 490.8,112.5 495.0,115.0 496.7,117.5 493.3,120.8 490.8,123.3 485.8,121.7"/>
<polygon class="R" points="643.8,238.8 647.5,232.5 655.0,231.2 658.8,235.0 656.2,240.0 650.0,242.5"/>
<polygon class="W" points="514.5,347.5 517.5,337.5 525.0,337.0 528.8,343.8 531.2,351.2 522.5,350.0 517.5,349.5"/>
<polygon class="W" points="293.0,343.8 296.2,340.0 300.0,341.2 298.8,346.2 294.5,348.0"/>
<polygon class="WB" points="297.5,257.0 315.0,260.0 330.0,258.8 340.0,257.5 341.2,252.5 353.8,252.0 350.0,256.2 343.8,260.0 337.5,267.5 340.0,273.8 330.0,276.2 325.0,280.0 326.2,288.8 323.8,293.8 318.8,290.0 310.0,286.2 307.5,280.0 303.8,283.8 297.5,287.0"/>
<polygon class="W" points="515.0,346.2 517.5,337.5 523.8,336.2 528.0,340.0 528.0,351.2 520.0,350.0"/>
<polygon class="R" points="644.2,242.5 647.5,239.2 648.3,234.2 651.7,232.0 655.8,232.5 658.3,236.7 656.7,240.0 651.7,241.7 648.3,243.3"/>
<polygon class="W" points="595.0,257.5 597.5,253.3 600.0,252.5 603.3,255.8 605.8,260.8 605.0,265.0 601.7,265.0 597.5,262.5"/>
<polygon class="R" points="405.8,321.7 408.3,316.7 413.3,313.3 417.5,310.8 416.7,315.8 413.3,320.8 409.2,324.2"/>
<polygon class="W" points="423.3,358.3 428.3,355.8 435.8,355.0 441.7,355.8 448.3,357.5 450.8,359.2 448.3,364.2 446.7,370.0 440.0,368.3 435.0,366.7 430.8,362.5 426.7,360.8"/>
<polygon class="R" points="410.8,566.7 414.2,565.0 418.3,563.7 423.3,564.2 428.3,564.7 432.5,566.7 430.8,570.0 427.5,572.5 421.7,571.7 415.8,570.8 412.5,569.2"/>
<polygon class="O" points="423.3,561.3 426.7,559.7 430.8,561.3 431.7,564.2 428.3,564.7 424.2,564.2"/>
<polygon class="Y" points="433.3,565.8 435.8,565.0 439.2,566.7 438.3,569.2 435.0,569.7"/>
<polyline class="N" points="421.7,160.8 425.0,163.3 427.5,161.7 430.0,162.5"/>
<polyline class="N" points="370.0,156.7 370.8,163.3 368.3,171.7 366.7,180.0 365.0,186.7 363.3,193.3"/>
<polyline class="N" points="375.8,163.3 379.2,171.7 380.8,180.0 384.2,186.7 385.0,191.7"/>
<polyline class="N" points="381.7,161.7 380.8,168.3 385.0,176.7 390.0,183.3 391.7,191.7"/>
<polyline class="N" points="390.0,159.2 391.7,166.7 395.0,173.3 396.7,180.0 397.5,191.7"/>
<polyline class="N" points="396.7,158.0 398.3,165.0"/>
<polyline class="N" points="402.5,176.7 400.8,183.3 402.5,191.7"/>
<polyline class="N" points="410.0,175.0 411.7,183.3 413.3,191.7"/>
<polyline class="N" points="418.3,173.3 420.0,181.7 419.2,191.7"/>
<polyline class="N" points="425.0,170.8 426.7,178.3 423.3,185.0 426.7,192.5"/>
<polyline class="N" points="430.0,171.7 430.8,180.0 429.2,191.7"/>
<polyline class="N" points="440.0,169.2 441.7,175.0 445.0,178.3"/>
<polyline class="N" points="340.0,191.7 346.7,193.3 356.7,195.0 365.0,186.7"/>
<polyline class="N" points="363.3,193.3 370.0,198.3 380.0,191.7 385.0,191.7 391.7,191.7 397.5,191.7 402.5,191.7 413.3,191.7 419.2,191.7 426.7,192.5 429.2,191.7 436.7,192.5 444.2,189.2"/>
<polyline class="N" points="270.0,233.0 273.8,241.2 276.2,248.8 277.5,255.5"/>
<polyline class="N" points="276.2,233.0 280.0,243.8 283.0,256.5"/>
<polyline class="N" points="248.0,237.5 251.2,242.5 257.5,250.0 262.5,257.5"/>
<polyline class="N" points="240.0,238.8 245.0,247.5 247.5,261.2"/>
<polyline class="N" points="238.8,287.0 239.5,295.0"/>
<polyline class="N" points="245.0,288.0 244.5,296.0"/>
<polyline class="N" points="251.2,288.8 250.0,297.0"/>
<polyline class="N" points="620.0,241.2 627.5,245.0 636.2,247.5 645.0,243.8 652.5,242.5 663.8,245.0"/>
<polyline class="N" points="543.8,198.8 550.0,205.0 562.5,203.8 572.5,201.2 573.8,197.5"/>
<polyline class="N" points="673.8,226.2 670.0,240.0 663.8,253.8 660.0,256.2 670.0,258.8 680.0,257.5 690.0,243.8 697.5,225.0"/>
<polyline class="N" points="680.0,257.5 692.5,263.8 705.0,268.8 712.5,272.5"/>
<polyline class="N" points="670.0,258.8 667.5,270.0 670.0,280.0 668.8,290.0 651.2,291.2 647.5,285.0 652.5,275.0 658.0,263.8"/>
<polyline class="N" points="670.0,258.8 677.5,267.5 692.5,272.5 707.5,273.8 713.8,278.8"/>
<polyline class="N" points="670.0,280.0 682.5,286.2 683.8,295.0 696.2,301.2"/>
<polyline class="N" points="682.5,286.2 700.0,276.2 707.5,273.8"/>
<polyline class="N" points="668.8,290.0 680.0,293.8 688.8,300.0"/>
<polyline class="N" points="651.2,291.2 646.2,297.5 643.8,310.0 656.2,315.0"/>
<polyline class="N" points="646.2,297.5 630.0,295.0 613.8,290.0 595.0,297.5 593.8,305.0 597.5,311.2 610.0,315.0 628.8,320.0 651.2,320.0"/>
<polyline class="N" points="628.8,320.0 628.8,333.8"/>
<polyline class="N" points="613.8,290.0 608.8,280.0 610.0,272.5 617.5,270.5"/>
<polyline class="N" points="585.0,193.8 575.0,200.0 570.0,210.0 568.8,216.2"/>
<polyline class="N" points="575.0,200.0 587.5,205.0 600.0,210.0 606.2,222.5"/>
<polyline class="N" points="620.0,247.5 610.0,255.0 603.8,256.2"/>
<polyline class="N" points="606.2,261.2 620.0,262.5 635.0,262.5 650.0,258.8 660.0,256.2"/>
<polyline class="N" points="628.8,333.8 630.0,321.2 612.5,320.0 595.0,317.5 575.0,315.0 570.0,325.0 567.5,327.5"/>
<polyline class="N" points="630.0,321.2 652.5,325.0"/>
<polyline class="N" points="581.2,340.0 586.2,336.2 603.8,335.0 611.2,335.0"/>
<polyline class="N" points="533.8,328.8 540.0,325.0 553.8,322.5"/>
<polyline class="N" points="531.2,336.2 542.5,335.0"/>
<polyline class="N" points="525.0,337.0 532.5,340.0 543.8,341.2 552.5,346.2"/>
<polyline class="N" points="531.2,351.2 537.5,362.5 545.0,370.0 552.5,370.0"/>
<polyline class="N" points="545.0,370.0 551.2,375.0 552.5,382.5"/>
<polyline class="N" points="532.5,368.8 536.2,366.2 545.0,370.0"/>
<polyline class="N" points="522.5,350.0 526.2,360.0 532.5,368.8 530.0,385.0 527.5,400.0 525.0,415.0 540.0,425.0 541.2,425.0"/>
<polyline class="N" points="510.0,372.5 513.8,367.5 522.5,366.2 532.5,368.8"/>
<polyline class="N" points="513.8,367.5 515.0,357.5 517.5,349.5"/>
<polyline class="N" points="492.5,355.0 502.5,352.5 514.5,347.5"/>
<polyline class="N" points="492.5,355.0 495.0,340.0 493.8,331.2"/>
<polyline class="N" points="481.2,363.8 492.5,355.0 503.8,360.0 506.2,372.5"/>
<polyline class="N" points="525.0,415.0 520.0,417.5 507.5,412.0"/>
<polyline class="N" points="520.0,417.5 517.5,422.5 502.5,426.2 493.8,428.8 488.8,422.5"/>
<polyline class="N" points="493.8,428.8 493.8,437.5"/>
<polyline class="N" points="442.5,410.0 442.5,417.5"/>
<polyline class="N" points="460.0,420.0 455.0,423.8"/>
<polyline class="N" points="442.5,417.5 440.0,422.5"/>
<polyline class="N" points="297.5,422.5 302.5,418.8 311.2,415.5"/>
<polyline class="N" points="297.5,422.5 300.0,430.0 305.0,432.5"/>
<polyline class="N" points="297.5,328.8 302.5,340.0"/>
<polyline class="N" points="192.5,337.5 197.5,343.8 203.8,347.5 205.0,356.2"/>
<polyline class="N" points="203.8,347.5 212.5,342.5 222.5,340.0 226.2,332.5 222.5,331.2"/>
<polyline class="N" points="212.5,342.5 215.0,350.0 222.5,353.8 226.2,363.8"/>
<polyline class="N" points="222.5,340.0 227.5,346.2 235.0,343.8 240.0,350.0 240.0,361.2"/>
<polyline class="N" points="222.5,353.8 230.0,351.2 235.0,343.8"/>
<polyline class="N" points="226.2,332.5 233.8,328.8 240.0,322.5 248.0,322.5"/>
<polyline class="N" points="233.8,328.8 240.0,335.0 247.5,337.5 255.0,332.5 257.5,325.0"/>
<polyline class="N" points="240.0,335.0 237.5,341.2 240.0,350.0 250.0,347.5 255.0,352.5"/>
<polyline class="N" points="247.5,337.5 250.0,347.5"/>
<polyline class="N" points="255.0,332.5 262.5,335.0 270.0,331.2 266.2,325.0"/>
<polyline class="N" points="262.5,335.0 262.5,342.5 255.0,345.0 250.0,347.5"/>
<polyline class="N" points="270.0,331.2 276.2,331.2"/>
<polyline class="N" points="262.5,342.5 272.5,343.8 276.2,337.5 285.0,336.2"/>
<polyline class="N" points="272.5,343.8 272.5,350.0"/>
<polyline class="N" points="207.5,366.2 215.0,372.5 220.0,382.5 222.5,395.0"/>
<polyline class="N" points="205.0,356.2 212.5,357.5 217.5,367.5 220.0,382.5"/>
<polyline class="N" points="212.5,357.5 222.5,353.8"/>
<polyline class="N" points="230.0,303.8 227.5,315.0 230.0,321.2 240.0,322.5"/>
<polyline class="N" points="213.8,315.0 227.5,315.0"/>
<polyline class="N" points="226.2,388.8 235.0,385.0 245.0,381.2"/>
<polyline class="N" points="226.2,388.8 230.0,391.2"/>
<polyline class="N" points="271.2,353.8 275.0,362.5 271.2,372.5 272.5,380.0 278.8,385.0 290.0,383.8 292.5,375.0 290.0,367.5 295.0,358.8 300.0,350.0 298.8,346.2"/>
<polyline class="N" points="271.2,353.8 267.5,357.5 265.0,356.2"/>
<polyline class="N" points="290.0,383.8 297.5,381.2 305.0,382.5 308.0,386.2"/>
<polyline class="N" points="305.0,382.5 306.2,370.0 312.5,361.2 322.5,358.8 328.8,357.5"/>
<polyline class="N" points="295.0,358.8 302.5,353.8 312.5,345.0"/>
<polyline class="N" points="300.0,350.0 305.0,345.0 312.5,337.5"/>
<polyline class="N" points="322.5,358.8 328.8,365.0 330.0,375.0 325.0,377.5"/>
<polyline class="N" points="328.8,365.0 337.5,362.5 345.0,367.5"/>
<polyline class="N" points="266.2,383.8 270.0,390.0 278.8,385.0"/>
<polyline class="N" points="282.5,412.5 290.0,400.0 287.5,403.8"/>
<polyline class="N" points="310.0,395.0 305.0,400.0 302.5,405.0"/>
<polyline class="N" points="315.0,402.5 312.5,410.0 311.2,415.5"/>
<polyline class="N" points="283.8,300.0 290.0,310.0 300.0,315.0 303.8,318.8"/>
<polyline class="N" points="271.2,316.2 280.0,322.5 286.2,330.0"/>
<polyline class="N" points="300.0,315.0 312.5,311.2 320.0,305.0 315.0,300.0"/>
<polyline class="N" points="297.5,257.0 315.0,260.0 330.0,258.8 340.0,257.5 341.2,252.5 353.8,252.0 350.0,256.2 343.8,260.0 337.5,267.5 340.0,273.8 330.0,276.2 325.0,280.0 326.2,288.8 323.8,293.8 318.8,290.0 310.0,286.2 307.5,280.0 303.8,283.8 297.5,287.0"/>
<polyline class="N" points="352.5,405.0 353.8,411.2 358.8,418.0 363.8,422.0"/>
<polyline class="N" points="403.8,397.5 410.0,402.5 415.0,410.0 418.8,416.2 416.2,420.8"/>
<polyline class="N" points="442.5,411.2 443.8,417.0"/>
<polyline class="N" points="456.2,424.5 460.0,421.2"/>
<polyline class="N" points="426.2,425.5 425.0,432.5 422.5,435.0 421.2,443.8 425.0,452.5 430.0,460.0 440.0,462.5"/>
<polyline class="N" points="419.5,440.0 421.2,443.8"/>
<polyline class="N" points="315.0,403.0 312.5,410.0 315.0,417.5 325.0,425.0 331.2,435.0"/>
<polyline class="N" points="325.0,425.0 335.0,420.0 343.8,412.5 350.0,408.8"/>
<polyline class="N" points="335.0,420.0 342.5,427.5 352.5,432.5 358.8,432.5"/>
<polyline class="N" points="332.5,441.2 342.5,437.5 352.5,432.5"/>
<polyline class="N" points="350.0,442.5 360.0,440.0 363.8,440.0"/>
<polyline class="N" points="371.2,445.0 373.8,452.5 375.0,460.0 375.0,467.5"/>
<polyline class="N" points="390.0,443.8 392.5,451.2 395.0,458.8"/>
<polyline class="N" points="400.0,445.0 405.0,450.0 412.5,452.5"/>
<polyline class="N" points="410.0,441.2 415.0,446.2 422.5,451.2"/>
<polyline class="N" points="397.5,462.5 390.0,470.0 382.5,473.8"/>
<polyline class="N" points="408.8,470.0 410.0,482.5"/>
<polyline class="N" points="416.2,473.8 417.5,480.0"/>
<polyline class="N" points="487.5,413.8 490.0,422.5 497.5,428.8 507.5,426.2 517.5,420.0 520.0,410.0"/>
<polyline class="N" points="497.5,428.8 493.8,438.8"/>
<polyline class="N" points="507.5,426.2 512.5,437.5 520.0,451.2"/>
<polyline class="N" points="307.5,388.8 305.0,382.5 307.5,370.0 312.5,360.0"/>
<polyline class="N" points="327.5,377.0 330.0,370.0 327.5,360.0"/>
<polyline class="N" points="307.5,370.0 300.0,367.5"/>
<polyline class="N" points="305.0,382.5 300.0,385.0"/>
<polyline class="N" points="310.0,397.5 302.5,402.5 300.0,410.0"/>
<polyline class="N" points="619.2,240.8 626.7,240.8 630.0,245.0 635.0,247.5 641.7,244.2 648.3,243.3 655.0,244.2 663.7,245.0"/>
<polyline class="N" points="426.7,279.5 433.3,278.7 440.0,280.3 446.7,282.8"/>
<polyline class="N" points="433.3,278.7 432.5,283.7 429.2,286.2"/>
<polyline class="N" points="450.0,269.5 449.2,273.7 455.0,276.2"/>
<polyline class="N" points="375.0,212.0 374.2,218.7 370.0,224.5 371.7,230.3 373.3,233.7"/>
<polyline class="N" points="340.0,227.0 348.3,228.7 356.7,232.0 363.3,233.7 373.3,233.7 381.7,235.3 388.3,237.0"/>
<polyline class="N" points="405.0,212.0 404.2,218.7 406.7,222.0 408.3,228.7 411.7,237.0 405.8,239.5"/>
<polyline class="N" points="374.2,218.7 383.3,222.0 393.3,218.7 404.2,218.7"/>
<polyline class="N" points="406.7,222.0 418.3,220.3 423.3,223.7 428.3,228.7 433.3,227.0 440.0,228.7"/>
<polyline class="N" points="441.7,212.0 442.5,220.3 440.0,228.7 446.7,227.0 448.3,222.0 456.7,217.0 460.0,212.0"/>
<polyline class="N" points="428.3,228.7 430.8,235.3 432.5,242.0 426.7,245.3 421.7,243.7 420.0,238.7 411.7,237.0"/>
<polyline class="N" points="432.5,242.0 440.0,246.2"/>
<polyline class="N" points="448.3,246.2 453.3,242.8 464.2,242.8"/>
<polyline class="N" points="446.7,227.0 450.0,233.7 455.0,239.5 464.2,242.8"/>
<polyline class="N" points="420.0,252.0 421.7,243.7"/>
<polyline class="N" points="340.0,235.3 346.7,234.5 353.3,235.3 360.0,233.7"/>
<polyline class="N" points="340.0,243.7 348.3,242.0 356.7,242.8 365.0,244.5 373.3,247.8 381.7,248.7 389.2,244.5"/>
<polyline class="N" points="378.3,235.3 380.8,240.3 385.0,239.5"/>
<polyline class="N" points="340.0,275.3 346.7,273.7 353.3,270.3 360.8,262.0"/>
<polyline class="N" points="353.3,270.3 360.0,273.7 368.3,275.3 373.3,277.8"/>
<polyline class="N" points="340.0,282.0 348.3,281.2 356.7,282.0"/>
<polyline class="N" points="370.0,293.7 371.7,287.0 373.3,282.0 375.8,280.3"/>
<polyline class="N" points="373.3,282.0 381.7,285.3 388.3,287.0 397.5,286.2"/>
<polyline class="N" points="381.7,285.3 380.8,292.0 377.5,294.8"/>
<polyline class="N" points="388.3,287.0 390.0,293.7 386.7,299.5"/>
<polyline class="N" points="390.0,293.7 395.8,295.3"/>
<polyline class="N" points="340.0,298.7 346.7,302.0 355.0,298.7 355.8,294.5"/>
<polyline class="N" points="346.7,302.0 348.3,308.7 343.3,315.3 340.0,318.7"/>
<polyline class="N" points="355.0,298.7 360.0,303.7 366.7,302.0 373.3,297.8"/>
<polyline class="N" points="360.0,303.7 358.3,312.0 361.7,319.5"/>
<polyline class="N" points="366.7,302.0 373.3,305.3 375.0,303.7"/>
<polyline class="N" points="396.7,281.2 403.3,278.7 413.3,277.0 423.3,276.2"/>
<polyline class="N" points="380.0,271.2 378.3,275.3"/>
<polyline class="N" points="446.7,297.8 453.3,300.3 463.3,296.2"/>
<polyline class="N" points="453.3,300.3 456.7,307.0 465.0,310.3 473.3,308.7"/>
<polyline class="N" points="456.7,307.0 453.3,312.0"/>
<polyline class="N" points="476.7,300.0 478.3,305.3"/>
<polyline class="N" points="486.7,293.7 492.0,295.3"/>
<polyline class="N" points="340.0,252.0 346.7,251.7 355.0,251.2 356.7,252.8 352.5,255.3 349.2,257.8 345.8,261.2 342.5,263.7 340.0,267.0"/>
<polyline class="N" points="438.3,305.0 441.7,301.7 446.7,301.7"/>
<polyline class="N" points="438.3,305.0 439.2,308.3 443.3,310.0"/>
<polyline class="N" points="450.8,390.0 460.0,391.3 471.7,390.0"/>
<polyline class="N" points="384.2,355.8 388.3,350.0 395.0,345.0 397.5,340.8"/>
<polyline class="N" points="395.0,345.0 403.3,342.5 411.7,343.3 420.0,345.0 421.7,350.0 423.3,358.3"/>
<polyline class="N" points="356.7,348.3 361.7,343.3 366.7,340.0"/>
<polyline class="N" points="356.7,348.3 363.3,351.7 373.3,353.3"/>
<polyline class="N" points="340.0,338.3 346.7,341.7 353.3,348.3 356.7,348.3"/>
<polyline class="N" points="399.2,333.3 406.7,332.5 413.3,330.8 421.7,328.3 426.7,331.7 428.3,340.0 420.0,345.0"/>
<polyline class="N" points="428.3,340.0 435.0,337.5 438.3,332.5"/>
<polyline class="N" points="428.3,340.0 440.0,343.3 446.7,348.3 453.3,348.3 460.0,347.5 468.3,350.0 465.0,353.3 456.7,354.2 453.3,348.3"/>
<polyline class="N" points="435.0,337.5 443.3,335.0 453.3,328.3 460.0,325.0 469.2,320.8"/>
<polyline class="N" points="443.3,335.0 450.0,338.3 456.7,343.3 460.0,347.5"/>
<polyline class="N" points="456.7,343.3 466.7,338.3 475.0,333.3 478.3,325.0 480.0,320.8"/>
<polyline class="N" points="421.7,350.0 433.3,351.7 443.3,350.8 446.7,348.3"/>
<polyline class="N" points="443.3,350.8 446.7,355.0 450.8,359.2"/>
<polyline class="N" points="448.3,364.2 456.7,361.7 466.7,363.3 480.0,365.8"/>
<polyline class="N" points="481.7,366.7 485.0,360.0 492.0,355.0"/>
<polyline class="N" points="468.3,350.0 481.7,346.7 492.0,347.5"/>
<polyline class="N" points="356.7,300.0 360.0,306.7 365.0,310.0 369.2,322.5"/>
<polyline class="N" points="365.0,310.0 373.3,308.3 375.0,310.0"/>
<polyline class="N" points="340.0,315.0 346.7,318.3 355.0,316.7 360.0,306.7"/>
<polyline class="N" points="343.3,321.7 346.7,318.3"/>
<polyline class="N" points="343.3,321.7 345.0,330.0 350.0,338.3 356.7,343.3 361.7,343.3"/>
<polyline class="N" points="365.8,327.5 360.0,321.7 355.0,316.7"/>
<polyline class="N" points="446.7,301.7 456.7,300.0"/>
<polyline class="N" points="448.3,305.8 456.7,310.0 466.7,313.3 473.3,315.8"/>
<polyline class="N" points="455.8,319.2 463.3,316.7 466.7,313.3"/>
<polyline class="N" points="393.3,308.3 395.0,304.2 400.0,303.3 402.5,306.7 400.8,311.7"/>
<polyline class="N" points="424.2,313.3 430.0,314.2 436.7,315.8 440.8,318.3 438.3,321.7 433.3,324.2 429.2,321.7 425.8,317.5"/>
<polyline class="N" points="501.7,253.7 511.7,254.5 520.0,255.3 521.7,256.2 518.3,260.3 516.7,267.0 518.3,273.7 520.0,278.7 518.3,283.7 511.7,285.3 503.3,284.5 500.0,286.2 496.7,288.7 488.3,287.8"/>
<polyline class="N" points="501.7,253.7 493.3,255.3 491.7,260.3 495.0,267.0 490.0,273.7 485.8,282.0"/>
<polyline class="N" points="515.0,252.8 518.3,247.0 525.0,242.0 526.7,235.3 533.3,230.3 541.7,226.2 545.0,227.8 548.3,229.5"/>
<polyline class="N" points="548.3,229.5 551.7,237.0 548.3,242.8 551.7,247.8 553.3,253.7 563.3,252.0 571.7,249.5 578.3,251.2"/>
<polyline class="N" points="551.7,237.0 558.3,236.2 565.8,237.8 570.0,243.7 571.7,249.5"/>
<polyline class="N" points="525.0,269.5 530.0,268.7 540.0,270.3 546.7,272.8 551.7,271.2 558.3,273.7 565.0,276.2 571.7,274.5 576.7,267.0 575.0,260.3 578.3,255.3 578.3,251.2"/>
<polyline class="N" points="525.0,269.5 523.3,274.5 518.3,273.7"/>
<polyline class="N" points="530.8,287.0 532.5,282.0 540.0,281.2 546.7,282.0 553.3,281.2 554.2,284.5 550.0,287.8 543.3,287.0 540.0,290.3 536.7,293.7 532.5,292.8 531.7,289.5 530.8,287.0"/>
<polyline class="N" points="565.0,276.2 566.7,282.0 562.5,287.0 560.0,293.7 559.2,298.7 563.3,302.0 570.0,304.5 578.3,305.3 586.7,303.7 593.3,302.8"/>
<polyline class="N" points="518.3,283.7 516.7,290.3 520.0,295.3 528.3,298.7 536.7,302.8 543.3,307.8 551.7,305.3 559.2,302.0"/>
<polyline class="N" points="543.3,307.8 542.5,319.5"/>
<polyline class="N" points="503.3,284.5 505.0,290.3 501.7,293.7 505.8,298.7 505.0,305.3 506.7,310.3 511.7,313.7 520.0,315.3 526.7,318.7"/>
<polyline class="N" points="505.8,298.7 513.3,295.3 520.0,295.3"/>
<polyline class="N" points="488.3,287.8 487.5,292.0 490.0,295.3 500.0,293.7"/>
<polyline class="N" points="486.7,298.7 495.0,297.0 501.7,293.7"/>
<polyline class="N" points="480.0,302.0 486.7,298.7"/>
<polyline class="N" points="480.0,302.0 485.0,307.0 495.0,312.0 503.3,318.7"/>
<polyline class="N" points="593.3,302.8 596.7,297.0 608.3,293.7 615.0,288.7 613.3,280.3 608.3,273.7 610.0,268.7 605.0,265.3"/>
<polyline class="N" points="593.3,302.8 595.0,308.7 603.3,312.0 613.3,313.7 622.0,312.0"/>
<polyline class="N" points="615.0,288.7 622.0,290.3"/>
<polyline class="N" points="578.3,251.2 581.7,247.0 586.7,244.5 593.3,242.0"/>
<polyline class="N" points="570.0,304.5 568.3,312.0 566.7,319.5"/>
<polyline class="N" points="573.3,305.3 570.8,312.0 570.0,319.5"/>
<polyline class="N" points="498.3,212.0 500.8,220.3 501.7,228.7 499.2,237.0 496.7,243.7 500.0,250.3 501.7,253.7"/>
<polyline class="N" points="511.7,212.0 510.0,222.0 511.7,232.0 515.0,242.0 515.0,252.8"/>
<polyline class="N" points="391.7,558.3 400.0,555.0 406.7,550.0 410.8,543.3 411.7,539.2 416.7,537.5 423.3,538.3 426.7,535.0 430.0,532.5 434.2,534.2 436.7,536.7 440.0,538.3 440.8,542.5 445.0,543.3 449.2,543.3 448.3,547.5 445.0,553.3"/>
<polyline class="N" points="426.7,535.0 428.3,540.0 430.0,545.0 431.7,549.2 435.8,548.3 440.0,545.8 440.8,542.5"/>
<polyline class="N" points="423.3,510.0 428.3,508.3 433.3,505.0 441.7,501.7"/>
<polyline class="N" points="458.8,547.5 465.0,557.5 475.0,562.5 478.8,560.0"/>
<polyline class="N" points="473.8,545.0 480.0,550.0 487.5,551.2 492.5,548.8"/>
<polyline class="N" points="480.0,550.0 478.8,560.0"/>
<polyline class="N" points="330.8,181.7 335.0,190.0 344.2,191.7"/>
<polyline class="N" points="333.3,193.3 335.0,190.0"/>
<polyline class="N" points="340.0,180.0 344.2,191.7 350.0,193.3 358.3,194.2 364.2,190.8"/>
<polyline class="N" points="325.0,215.8 330.8,217.5 333.3,216.7 335.0,208.3 334.2,201.7 333.3,193.3"/>
<polyline class="N" points="333.3,216.7 338.3,220.0 350.0,221.7 363.3,223.3 370.0,224.2"/>
<polyline class="N" points="355.0,226.7 350.0,230.0 338.3,228.3 330.0,227.5 325.0,230.0 323.3,236.7 320.0,241.7 315.0,245.0 306.7,249.2 300.0,250.8"/>
<polyline class="N" points="325.0,230.0 318.3,228.3 313.3,230.0 310.0,235.0 311.7,240.0 316.7,241.7"/>
<polyline class="N" points="300.0,250.8 305.0,256.7 316.7,260.0 328.3,258.3 340.0,255.8 338.3,250.8"/>
<polyline class="N" points="337.5,234.2 339.2,240.0 340.0,245.0 338.3,250.8"/>
<polyline class="N" points="364.2,190.8 366.7,196.7 371.7,201.7 376.7,206.7 375.8,213.3"/>
<polyline class="N" points="345.8,210.0 349.2,205.8 355.0,202.5 358.3,205.0 357.5,210.0 360.0,212.5 355.0,214.2 350.0,212.5 345.8,210.0"/>
<polyline class="N" points="410.0,194.2 406.7,201.7 405.8,210.0 403.3,216.7"/>
<polyline class="N" points="376.7,206.7 383.3,215.0"/>
<polyline class="N" points="341.7,232.5 337.5,234.2"/>
<polyline class="N" points="348.3,234.2 341.7,232.5"/>
<polyline class="N" points="338.3,250.8 353.3,251.7 363.3,250.8"/>
<polyline class="N" points="348.3,234.2 346.7,241.7 345.0,246.7"/>
</svg>
</body></html>
